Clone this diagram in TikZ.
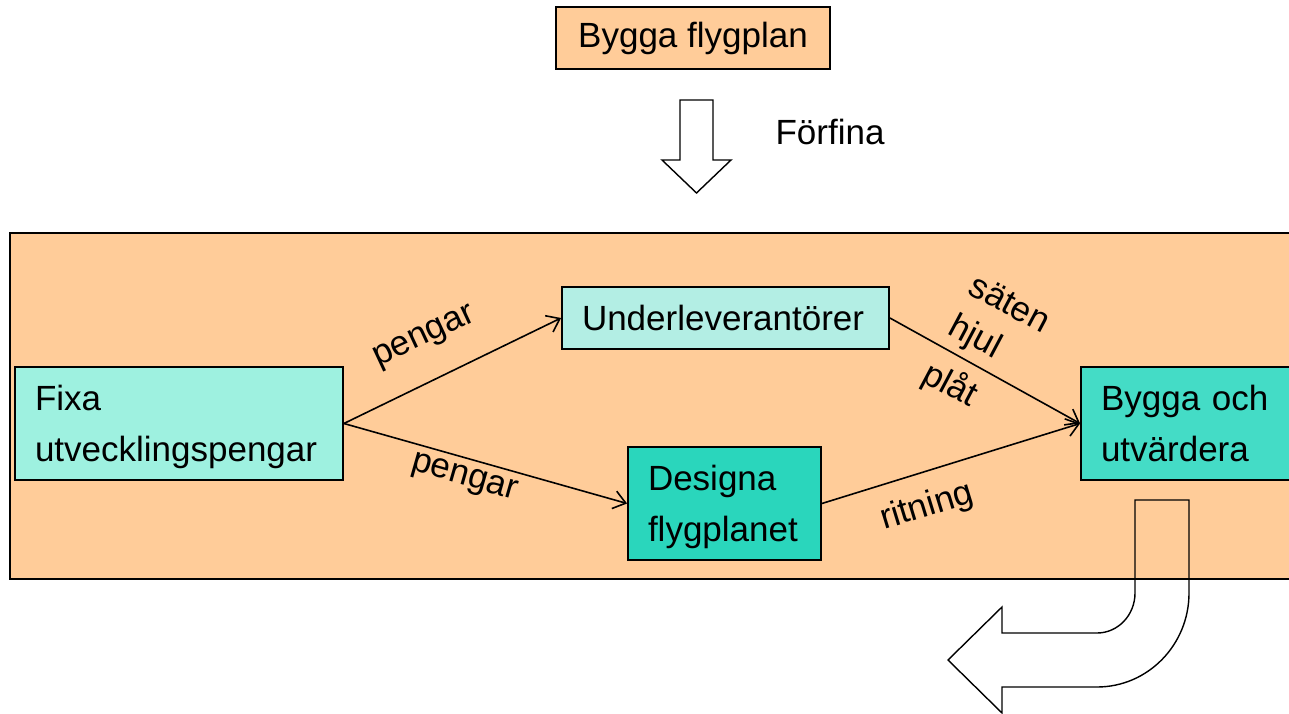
\documentclass[tikz,border=0pt]{standalone}
\usepackage{fontspec}
\setmainfont{Liberation Sans}
\usepackage{xcolor}
\usetikzlibrary{arrows.meta}
\definecolor{peach}{HTML}{FFCC99}
\definecolor{aqualight}{HTML}{9EF1E0}
\definecolor{aquapale}{HTML}{B3EEE4}
\definecolor{aquadark}{HTML}{2AD6BC}
\definecolor{aquamid}{HTML}{44DCC6}

\begin{document}
\begin{tikzpicture}[x=1pt,y=-1pt,
    every node/.style={font=\fontsize{35}{51}\selectfont},
    box/.style={draw,line width=1.8pt,inner xsep=20pt,inner ysep=0pt,align=left},
    lbl/.style={inner sep=1pt},
    flow/.style={-{Straight Barb[length=12pt,width=18pt]},line width=1.6pt}]
    \clip (0,0) rectangle (1289,714);
    \fill[white] (0,0) rectangle (1289,714);
    \draw[fill=peach,line width=1.5pt] (10,233) rectangle (1310,579);
    \node[box,fill=peach,minimum width=274pt,minimum height=62pt,align=center] (0) at (693,38) {Bygga flygplan};
    \draw[line width=1.4pt] (680,100) -- (680,160) -- (662,160) -- (696.5,193) -- (731,160) -- (713,160) -- (713,100) -- cycle;
    \node[lbl] (f) at (830,132) {Förfina};
    \node[box,fill=aqualight,text width=288pt,minimum height=113pt,text height=32pt] (1) at (179,423.5) {Fixa\\utvecklingspengar};
    \node[box,fill=aquapale,text width=287pt,minimum height=62pt] (2) at (725.5,318) {Underleverantörer};
    \node[box,fill=aquadark,text width=153pt,minimum height=113pt,text height=32pt] (3) at (724.5,503.5) {Designa\\flygplanet};
    \node[box,fill=aquamid,text width=220pt,minimum height=113pt] (4) at (1211,423.5) {Bygga och\\utvärdera};
    \draw[flow] (1.east) to (2.west);
    \draw[flow] (1.east) to (3.west);
    \draw[flow] (2.east) to (4.west);
    \draw[flow] (3.east) to (4.west);
    \node[lbl,rotate=25] (p1) at (425,338) {pengar};
    \node[lbl,rotate=-16] (p2) at (464,479) {pengar};
    \node[lbl,rotate=-28] (s) at (1010,303) {säten};
    \node[lbl,rotate=-28] (h) at (975,338) {hjul};
    \node[lbl,rotate=-28] (pl) at (950,385) {plåt};
    \node[lbl,rotate=17] (r) at (927,507) {ritning};
    \draw[line width=1.4pt] (1135,500) -- (1189,500) -- (1189,593) arc[start angle=0,end angle=90,x radius=92,y radius=94] -- (1002,687) -- (1002,713) -- (948,660) -- (1002,607) -- (1002,633) -- (1097,633) arc[start angle=90,end angle=0,x radius=38,y radius=40] -- cycle;
\end{tikzpicture}
\end{document}
